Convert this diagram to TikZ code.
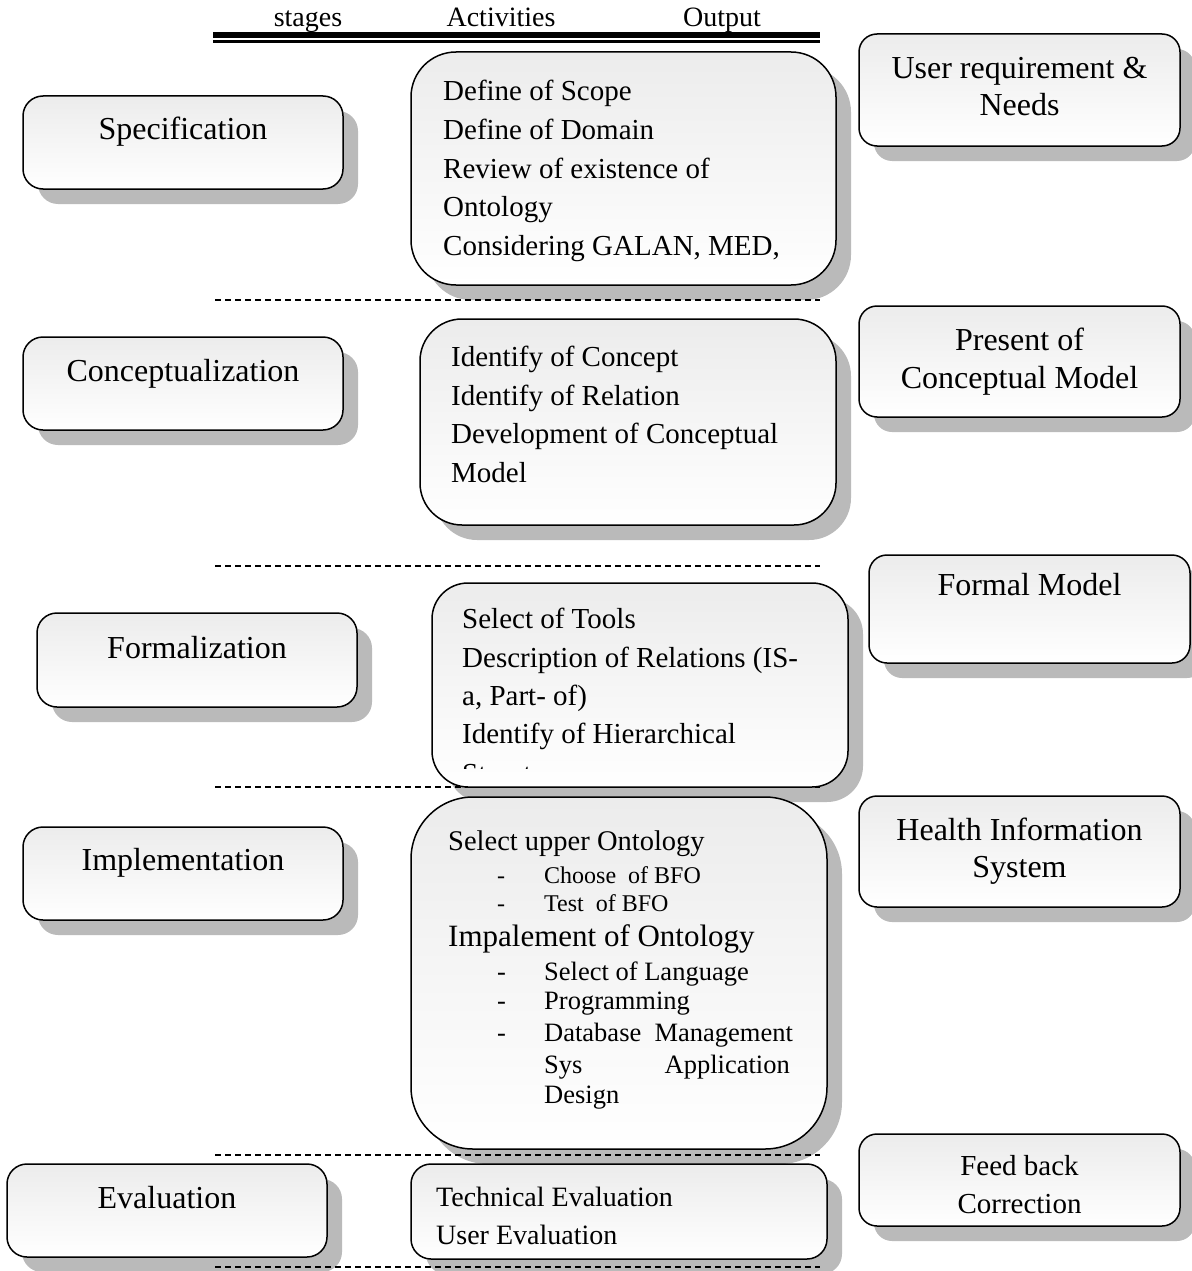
\documentclass[tikz,border=0pt]{standalone}
\usepackage{fontspec}
\setmainfont{Liberation Serif}
\usetikzlibrary{shadows}
\newcommand{\fsz}[1]{\fontsize{#1}{#1}\selectfont}
\tikzset{
  boxbase/.style={draw=black, line width=1.5pt, rectangle, top color=gray!15, bottom color=white,
    inner sep=0pt, outer sep=0pt,
    drop shadow={shadow xshift=15pt, shadow yshift=-15pt, fill=black, opacity=0.27}},
  stagebox/.style={boxbase, rounded corners=20pt, minimum width=320pt, minimum height=93pt},
  outbox/.style={boxbase, rounded corners=18pt, minimum width=321pt, minimum height=111pt},
  actbox/.style={boxbase},
  bigtxt/.style={inner sep=0pt, anchor=base, font=\fsz{32}},
  acttxt/.style={inner sep=0pt, anchor=base west, font=\fsz{29}},
  subtxt/.style={inner sep=0pt, anchor=base west, font=\fsz{26.5}},
  hdtxt/.style={inner sep=0pt, anchor=base, font=\fsz{28}},
  sepline/.style={line width=1.6pt, dash pattern=on 6pt off 4pt},
}
\begin{document}
\begin{tikzpicture}[x=1pt,y=-1pt]
\useasboundingbox (0,0) rectangle (1191,1271);

% header
\node[hdtxt] (hstages) at (308,27) {stages};
\node[hdtxt] (hact) at (501,27) {Activities};
\node[hdtxt] (hout) at (722,27) {Output};
\coordinate (hl1) at (213,35);
\coordinate (hr1) at (820,35);
\coordinate (hl2) at (213,41.5);
\coordinate (hr2) at (820,41.5);
\draw[line width=6pt] (hl1) -- (hr1);
\draw[line width=2.2pt] (hl2) -- (hr2);

% separators
\foreach \yy/\nm in {300/a,566/b,787/c,1155/d,1267/e}{
  \coordinate (sl\nm) at (215,\yy);
  \coordinate (sr\nm) at (820,\yy);
  \draw[sepline] (sl\nm) -- (sr\nm);
}

% stage boxes
\node[stagebox] (st1) at (183,142.5) {};
\node[stagebox] (st2) at (183,383.5) {};
\node[stagebox, minimum height=94pt] (st3) at (197,660) {};
\node[stagebox] (st4) at (183,873.5) {};
\node[stagebox] (st5) at (167,1210.5) {};

% activity boxes
\node[actbox, rounded corners=45pt, minimum width=425pt, minimum height=233pt] (ac1) at (623.5,168.5) {};
\node[actbox, rounded corners=42pt, minimum width=416pt, minimum height=206pt] (ac2) at (628,422) {};
\node[actbox, rounded corners=36pt, minimum width=416pt, minimum height=204pt] (ac3) at (640,685) {};
\node[actbox, rounded corners=62pt, minimum width=416pt, minimum height=352pt] (ac4) at (619,973) {};
\node[actbox, rounded corners=20pt, minimum width=416pt, minimum height=95pt] (ac5) at (619,1211.5) {};

% output boxes
\node[outbox, minimum height=112pt] (ou1) at (1019.5,90) {};
\node[outbox] (ou2) at (1019.5,361.5) {};
\node[outbox, minimum height=108pt] (ou3) at (1029.5,609) {};
\node[outbox] (ou4) at (1019.5,851.5) {};
\node[outbox, minimum height=92pt] (ou5) at (1019.5,1180) {};

% stage texts
\node[bigtxt] (st1t) at (183,139.5) {Specification};
\node[bigtxt] (st2t) at (183,381) {Conceptualization};
\node[bigtxt] (st3t) at (197,658) {Formalization};
\node[bigtxt] (st4t) at (183,870) {Implementation};
\node[bigtxt] (st5t) at (167,1208) {Evaluation};

% output texts
\node[bigtxt] (ou1a) at (1019.5,79) {User requirement \&};
\node[bigtxt] (ou1b) at (1019.5,116) {Needs};
\node[bigtxt] (ou2a) at (1019.5,350) {Present of};
\node[bigtxt] (ou2b) at (1019.5,388) {Conceptual Model};
\node[bigtxt] (ou3a) at (1029.5,595) {Formal Model};
\node[bigtxt] (ou4a) at (1019.5,840) {Health Information};
\node[bigtxt] (ou4b) at (1019.5,877) {System};
\node[bigtxt, font=\fsz{29}] (ou5a) at (1019.5,1175) {Feed back};
\node[bigtxt, font=\fsz{29}] (ou5b) at (1019.5,1213) {Correction};

% activity 1
\node[acttxt] (a1a) at (443,100.5) {Define of Scope};
\node[acttxt] (a1b) at (443,139.3) {Define of Domain};
\node[acttxt] (a1c) at (443,178.1) {Review of existence of};
\node[acttxt] (a1d) at (443,216.9) {Ontology};
\node[acttxt] (a1e) at (443,255.7) {Considering GALAN, MED,};

% activity 2
\node[acttxt] (a2a) at (451,366) {Identify of Concept};
\node[acttxt] (a2b) at (451,405) {Identify of Relation};
\node[acttxt] (a2c) at (451,443) {Development of Conceptual};
\node[acttxt] (a2d) at (451,482) {Model};

% activity 3
\node[acttxt] (a3a) at (462,628) {Select of Tools};
\node[acttxt] (a3b) at (462,667) {Description of Relations (IS-};
\node[acttxt] (a3c) at (462,705) {a, Part- of)};
\node[acttxt] (a3d) at (462,743) {Identify of Hierarchical};
\begin{scope}
  \clip (432,583) rectangle (848,768);
  \node[acttxt] (a3e) at (462,783) {Structure};
\end{scope}

% activity 4
\node[acttxt, font=\fsz{28.5}] (a4a) at (448,850) {Select upper Ontology};
\node[subtxt, font=\fsz{24}] (a4bd) at (497,883) {-};
\node[subtxt, font=\fsz{24}] (a4b) at (544,883) {Choose\ \ of BFO};
\node[subtxt, font=\fsz{24}] (a4cd) at (497,911.5) {-};
\node[subtxt, font=\fsz{24}] (a4c) at (544,911.5) {Test\ \ of BFO};
\node[acttxt, font=\fsz{31}] (a4d) at (448,946.5) {Impalement of Ontology};
\node[subtxt] (a4ed) at (497,980) {-};
\node[subtxt] (a4e) at (544,980) {Select of Language};
\node[subtxt] (a4fd) at (497,1009) {-};
\node[subtxt] (a4f) at (544,1009) {Programming};
\node[subtxt] (a4gd) at (497,1041.5) {-};
\node[subtxt] (a4g) at (544,1041.5) {Database\ \ Management};
\node[subtxt] (a4h) at (544,1073) {Sys};
\node[subtxt, anchor=base east] (a4i) at (790,1073) {Application};
\node[subtxt] (a4j) at (544,1103) {Design};

% activity 5
\node[acttxt, font=\fsz{28}] (a5a) at (436,1206) {Technical Evaluation};
\node[acttxt, font=\fsz{28}] (a5b) at (436,1244) {User Evaluation};
\end{tikzpicture}
\end{document}
